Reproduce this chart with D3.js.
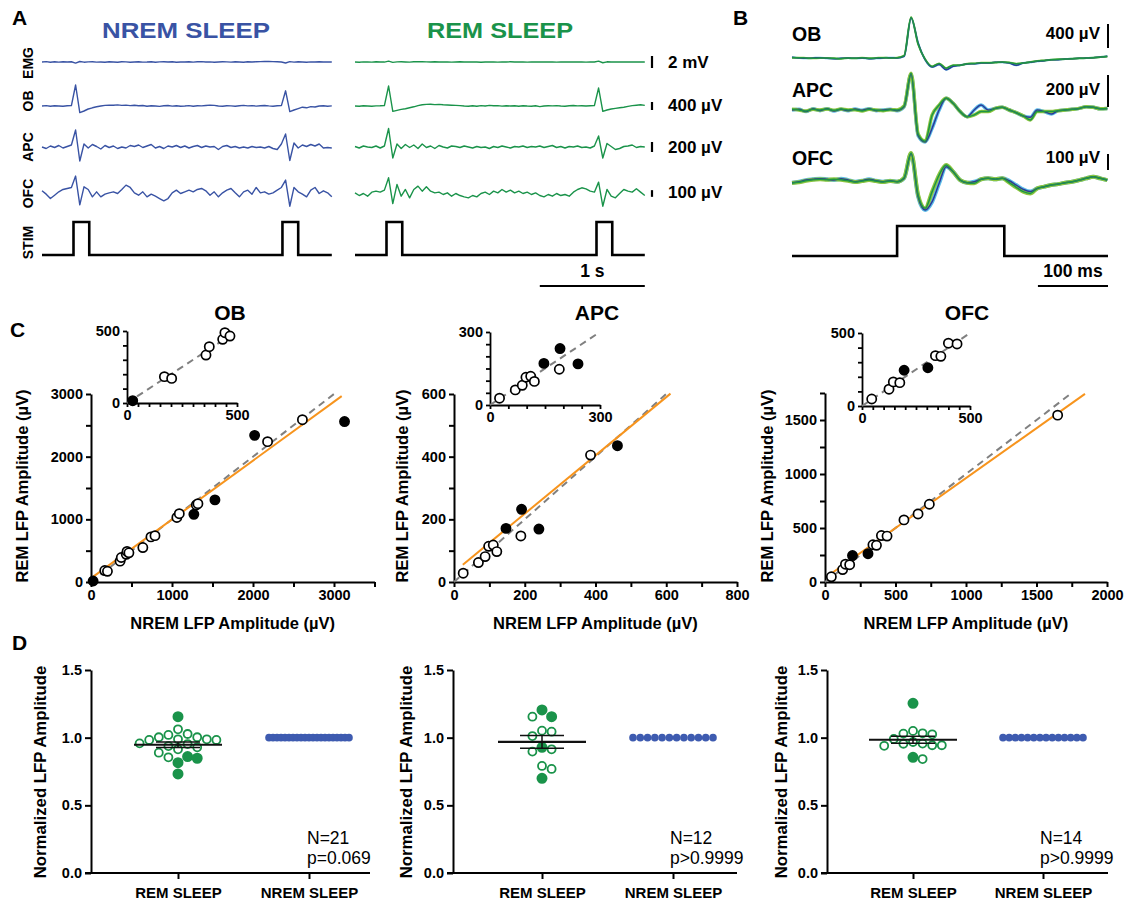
<!DOCTYPE html>
<html>
<head>
<meta charset="utf-8">
<script src="https://cdn.jsdelivr.net/npm/d3@7"></script>
<style>
  body { margin: 0; background: #fff; }
  svg text { font-family: "Liberation Sans", Arial, Helvetica, sans-serif; }
</style>
</head>
<body>
<svg id="fig" width="1134" height="904"></svg>
<script>
// ---------------- data: panel A (raw traces, 40 ms per sample, µV) ----------------
var dtA = 0.04;
var nremEMG = [0, 60, -40, 30, -20, 50, 0, 40, -180, 80,
  -30, 20, 40, -20, 10, -50, 30, 0, -30, 40,
  20, -40, 10, 30, -20, 0, 40, -30, 20, 50,
  -10, 30, -40, 10, 0, 40, -20, 30, 60, -10,
  20, -30, 0, 40, 20, -20, 50, 10, -30, 30,
  0, 40, 60, 80, 100, 70, 30, 0, -170, 60,
  -20, 30, 10, -30, 20, 0, 40, -10, 20, 0];
var nremOB = [0, 20, -10, 15, 0, -15, 10, 20, 1050, -330,
  -250, -150, -90, -40, 0, 30, 45, 40, 55, 30,
  45, 20, 35, 10, 25, -10, 15, 0, -20, 10,
  25, -5, 15, -15, 0, 20, -10, 10, 5, 25,
  45, 30, 0, -10, 15, 5, -15, 10, 30, 5,
  20, -5, 15, 25, 5, -10, 10, 20, 760, -280,
  -200, -130, -60, -90, -30, -50, 0, 10, -10, 5];
var nremAPC = [0, -30, 20, -10, 30, -20, 10, 40, 340, -280,
  60, -20, 50, 10, -40, 30, -10, 20, -30, 0,
  -20, 30, 10, 40, -10, 20, 50, -20, 10, -30,
  20, 0, 30, -10, 20, -20, 10, 30, -10, 20,
  0, 10, -50, 10, 30, -10, 10, -20, 0, -20,
  10, -10, 0, -20, 10, -30, -50, 60, 260, -270,
  80, -20, 40, 10, 50, 20, 60, -20, -10, -20];
var nremOFC = [40, -10, -75, -25, 25, 60, 75, 90, 260, -170,
  100, 60, -50, 25, -50, -10, 10, 25, 0, 60,
  125, 90, 10, -25, 25, -50, -10, -40, -75, -110,
  -75, 10, 50, 0, 25, 50, 25, 60, 75, 40,
  -25, 25, -50, 10, 50, 75, 10, -50, 25, 50,
  -10, 90, 10, 25, -10, 10, 50, 90, 200, -190,
  90, 25, -10, -50, 50, 90, 0, 40, 10, -50];
var remEMG = [0, -30, 20, 10, -20, 30, 0, -10, 150, -60,
  20, 40, 10, -20, 30, 60, 40, 20, 0, 30,
  -10, 20, 0, -20, 10, 30, 0, -10, 20, 0,
  -30, 10, 20, 0, -20, 10, 0, 30, -10, 0,
  20, -20, 10, 0, -10, 20, 0, 10, -20, 10,
  0, 20, -10, 0, 10, -20, 0, 10, 140, -120,
  30, 0, -10, 20, 0, 10, -10, 20, 0, 10];
var remOB = [0, -15, 10, 0, -10, 5, 10, 20, 1000, -270,
  -220, -170, -140, -90, -40, 20, 60, 80, 90, 70,
  80, 60, 50, 40, 30, 20, 0, -10, 10, -15,
  20, 0, 30, 10, 20, -5, 15, 0, 10, -10,
  15, 0, -10, 10, -30, 0, 15, 5, 20, 0,
  -10, 10, 25, 5, 15, 0, 10, 20, 900, -270,
  -200, -150, -120, -90, -60, -20, 20, 40, 60, 30];
var remAPC = [10, -20, 20, 0, -10, 20, -20, 20, 370, -220,
  60, -30, 50, -10, 40, -30, 60, -10, 20, -30,
  30, 0, -20, 20, 10, -10, 20, 0, -20, 10,
  -10, 0, -30, 10, -10, 20, 0, -20, 10, 0,
  20, -10, 10, 0, 20, -10, 10, 30, -10, 10,
  -20, 10, 0, 20, -10, 0, -20, 20, 220, -220,
  70, 10, -50, -30, 10, 20, 40, -10, 10, 0];
var remOFC = [10, -30, 0, -40, 20, 35, 20, 50, 235, -150,
  135, -40, 60, -65, 60, 110, 35, 100, 35, 10,
  20, -15, 10, -40, 0, -30, -50, -65, -30, -50,
  0, 20, -15, 35, 10, 60, 20, 50, 10, 35,
  0, 20, -15, 10, -30, -50, -15, -40, 0, -30,
  -15, -40, 20, 60, 85, 70, 35, 20, 170, -190,
  60, -40, -65, 0, 60, 35, 20, 70, 20, -30];
var stimNrem = [0.30, 2.29], stimRem = [0.30, 2.30], stimDurA = 0.15;
var rowNames = ['EMG', 'OB', 'APC', 'OFC', 'STIM'];
var scaleLabelsA = ['2 mV', '400 µV', '200 µV', '100 µV'];
var scaleValuesA = [2000, 400, 200, 100];

// ---------------- data: panel B (averaged responses, 10 ms per sample from -150 ms, µV) ----------------
var tB = d3.range(-150, 301, 10);
var bOBnrem = [11, 0, -6, 0, 6, -6, -11, -6, 0, -6, 0, -11, -6, 0, 6, 0,
  28, 667, 250, -28, -150, -110, -195, -140, -120, -100, -95, -85, -85, -70, -70,
  -85, -120, -85, -70, -55, -45, -28, -28, -17, -11, -6, 0, 6, 17, 28];
var bOBrem = [6, 6, 0, -6, 0, 0, -6, -11, 0, -6, 6, -6, 0, 6, 0, 6,
  40, 680, 230, -20, -140, -90, -170, -120, -120, -95, -90, -80, -80, -75, -65,
  -75, -95, -85, -65, -50, -40, -30, -22, -17, -11, -6, 0, 6, 15, 25];
var bAPCnrem = [0, 4, -10, 8, -4, 8, -6, 4, -4, 6, -2, 8, -4, 0, 4, -4,
  20, 225, -160, -200, -114, 0, 73, 42, -10, -42, 0, 31, 0, 10, 17,
  0, -17, -37, -46, 0, -10, -25, -4, 0, 4, 10, 21, 17, 8, 10];
var bAPCrem = [4, 0, -6, 4, 0, 6, -2, 6, 0, 2, -6, 4, 0, -4, 2, 0,
  25, 230, -150, -195, -31, 31, 73, 42, -10, -42, -31, -10, -10, 10, 17,
  0, -17, -37, -62, -10, -10, -10, -4, 0, 4, 10, 21, 17, 8, 10];
var bOFCnrem = [-6, 0, 10, 15, 19, 15, 10, 19, 10, 0, 6, 15, 6, 0, 6, 0,
  21, 177, -94, -177, -125, -10, 94, 62, 10, -6, 0, 15, 21, 15, 21,
  6, -21, -48, -62, -42, -31, -21, -15, -6, 0, 10, 21, 31, 21, 10];
var bOFCrem = [-8, -4, 6, 12, 15, 12, 15, 12, 6, -2, 4, 10, 4, -2, 4, 0,
  25, 180, -83, -166, -62, 42, 104, 62, 10, -6, -10, 15, 21, 15, 21,
  -6, -35, -62, -73, -42, -31, -21, -15, -6, 0, 10, 21, 31, 21, 10];
var stimOnB = 0, stimDurB = 153;
var regionNames = ['OB', 'APC', 'OFC'];
var scaleLabelsB = ['400 µV', '200 µV', '100 µV'];
var scaleValuesB = [400, 200, 100];

// ---------------- data: panel C (NREM vs REM amplitude, µV; 1 = filled marker) ----------------
var obNrem = [26, 1270, 1530, 2020, 3130, 170, 203, 359, 374, 435, 445, 468, 640, 740, 790, 1060, 1090, 1300, 1320, 2180, 2610];
var obRem = [16, 1080, 1310, 2340, 2560, 183, 171, 333, 391, 442, 488, 465, 550, 720, 740, 1030, 1090, 1230, 1250, 2240, 2590];
var obFilled = [1, 1, 1, 1, 1, 0, 0, 0, 0, 0, 0, 0, 0, 0, 0, 0, 0, 0, 0, 0, 0];
var apcNrem = [147, 191, 240, 462, 26, 69, 88, 98, 111, 121, 189, 386];
var apcRem = [171, 232, 169, 435, 28, 62, 81, 114, 118, 97, 147, 405];
var apcFilled = [1, 1, 1, 1, 0, 0, 0, 0, 0, 0, 0, 0];
var ofcNrem = [195, 305, 45, 125, 145, 175, 340, 365, 400, 440, 560, 660, 740, 1650];
var ofcRem = [245, 262, 48, 115, 165, 160, 345, 340, 430, 425, 575, 630, 720, 1545];
var ofcFilled = [1, 1, 0, 0, 0, 0, 0, 0, 0, 0, 0, 0, 0, 0];
// linear fits: slope, intercept, first x, last x
var obFit = [0.939, 59, 28, 3095];
var apcFit = [0.93, 32, 25, 612];
var ofcFit = [0.924, 38, 12, 1844];

// ---------------- data: panel D (REM amplitude normalised to NREM) ----------------
var dCategories = ['REM SLEEP', 'NREM SLEEP'];
var dObRem = [1.155, 0.86, 0.848, 0.815, 0.732, 1.062, 1.027, 1.02, 1.003, 1.003, 0.988, 0.983, 0.983, 0.988, 0.958, 0.953, 0.938, 0.929, 0.914, 0.889, 0.855];
var dObFilled = [1, 1, 1, 1, 1, 0, 0, 0, 0, 0, 0, 0, 0, 0, 0, 0, 0, 0, 0, 0, 0];
var dApcRem = [1.205, 1.155, 0.929, 0.700, 1.155, 1.044, 1.052, 1.012, 0.914, 0.897, 0.791, 0.769];
var dApcFilled = [1, 1, 1, 1, 0, 0, 0, 0, 0, 0, 0, 0];
var dOfcRem = [1.254, 0.855, 0.968, 1.032, 0.944, 1.05, 0.956, 1.025, 0.94, 1.03, 0.955, 0.944, 0.99, 0.842];
var dOfcFilled = [1, 1, 0, 0, 0, 0, 0, 0, 0, 0, 0, 0, 0, 0];
var dStats = [['N=21', 'p=0.069'], ['N=12', 'p>0.9999'], ['N=14', 'p>0.9999']];

// ---------------- drawing ----------------
var svg = d3.select('#fig');
var NREM_C = '#3953a4', REM_C = '#1a934a';

svg.append('rect').attr('width', 1134).attr('height', 904).attr('fill', '#fff');

function label(x, y, s, size, opt) {
    opt = opt || {};
    var t = svg.append('text')
        .attr('x', x).attr('y', y)
        .attr('font-size', size)
        .attr('font-weight', opt.normal ? 'normal' : 'bold')
        .attr('fill', opt.color || '#000')
        .attr('text-anchor', opt.anchor || 'start')
        .text(s);
    if (opt.rotate) t.attr('transform', 'rotate(-90,' + x + ',' + y + ')');
    if (opt.len) t.attr('textLength', opt.len).attr('lengthAdjust', 'spacingAndGlyphs');
    return t;
}

function styleAxis(g, w, size) {
    g.select('.domain').attr('stroke', '#000').attr('stroke-width', w);
    g.selectAll('.tick line').attr('stroke', '#000').attr('stroke-width', w);
    g.selectAll('.tick text').attr('fill', '#000').attr('font-size', size)
        .attr('font-weight', 'bold').attr('font-family', null);
}

// panel letters
label(12, 25, 'A', 21);
label(733, 25, 'B', 21);
label(10, 337, 'C', 21);
label(12, 650, 'D', 21);

// ---- panel A ----
label(186, 38, 'NREM SLEEP', 22, { anchor: 'middle', color: NREM_C, len: 168 });
label(500, 38, 'REM SLEEP', 22, { anchor: 'middle', color: REM_C, len: 146 });

var rowBase = [62, 106, 147, 193.5];
var rowGain = [12 / 2000, 8 / 400, 10 / 200, 6.7 / 100]; // px per µV
var rowLabelY = [63, 101, 147, 193.5, 242.5];
rowNames.forEach(function (n, i) {
    label(32.5, rowLabelY[i], n, 14, { anchor: 'middle', rotate: true });
});

var tEndA = dtA * (nremOB.length - 1);
var xNrem = d3.scaleLinear().domain([0, tEndA]).range([42, 42 + 105 * tEndA]);
var xRem = d3.scaleLinear().domain([0, tEndA]).range([355, 355 + 105 * tEndA]);

function drawTrace(vals, x, y, color, w) {
    svg.append('path')
        .datum(vals)
        .attr('fill', 'none')
        .attr('stroke', color)
        .attr('stroke-width', w)
        .attr('stroke-linejoin', 'round')
        .attr('d', d3.line().x(function (d, i) { return x(i * dtA); }).y(function (d) { return y(d); }));
}

[[nremEMG, remEMG], [nremOB, remOB], [nremAPC, remAPC], [nremOFC, remOFC]].forEach(function (pair, r) {
    var y = d3.scaleLinear().domain([0, 1]).range([rowBase[r], rowBase[r] - rowGain[r]]);
    drawTrace(pair[0], xNrem, y, NREM_C, 1.4);
    drawTrace(pair[1], xRem, y, REM_C, 1.4);
    // scale bar
    var half = scaleValuesA[r] * rowGain[r] / 2;
    svg.append('line').attr('x1', 652).attr('x2', 652)
        .attr('y1', rowBase[r] - half).attr('y2', rowBase[r] + half)
        .attr('stroke', '#000').attr('stroke-width', 2.2);
    label(668, [68, 111, 153, 198][r], scaleLabelsA[r], 17);
});

function stimPoints(onsets, dur, t0, t1) {
    var pts = [[t0, 0]];
    onsets.forEach(function (t) { pts.push([t, 0], [t, 1], [t + dur, 1], [t + dur, 0]); });
    pts.push([t1, 0]);
    return pts;
}
var yStimA = d3.scaleLinear().domain([0, 1]).range([255, 222]);
[[stimNrem, xNrem], [stimRem, xRem]].forEach(function (s) {
    svg.append('path')
        .datum(stimPoints(s[0], stimDurA, 0, tEndA))
        .attr('fill', 'none').attr('stroke', '#000').attr('stroke-width', 2.6)
        .attr('d', d3.line().x(function (d) { return s[1](d[0]); }).y(function (d) { return yStimA(d[1]); }));
});
// 1 s bar
svg.append('line').attr('x1', xRem(tEndA - 1)).attr('x2', xRem(tEndA))
    .attr('y1', 286).attr('y2', 286).attr('stroke', '#000').attr('stroke-width', 2);
label((xRem(tEndA - 1) + xRem(tEndA)) / 2, 277, '1 s', 17.5, { anchor: 'middle' });

// ---- panel B ----
var xB = d3.scaleLinear().domain([-150, 301]).range([792, 1108]);
var bBase = [58, 110, 181.7];
var bGain = [24 / 400, 32 / 200, 16 / 100];
var bBarBottom = [48, 107, 170];
var bLabelY = [41, 97, 165];
var bSets = [[bOBnrem, bOBrem], [bAPCnrem, bAPCrem], [bOFCnrem, bOFCrem]];
var halo = [2, 3.5, 4];

bSets.forEach(function (pair, r) {
    var y = d3.scaleLinear().domain([0, 1]).range([bBase[r], bBase[r] - bGain[r]]);
    var line = d3.line().curve(d3.curveMonotoneX)
        .x(function (d, i) { return xB(tB[i]); })
        .y(function (d) { return y(d); });
    svg.append('path').datum(pair[0]).attr('fill', 'none').attr('stroke', '#5bbbe8')
        .attr('stroke-width', halo[r]).attr('stroke-linejoin', 'round').attr('d', line);
    svg.append('path').datum(pair[1]).attr('fill', 'none').attr('stroke', '#8cc63f')
        .attr('stroke-width', halo[r]).attr('stroke-linejoin', 'round').attr('d', line);
    svg.append('path').datum(pair[0]).attr('fill', 'none').attr('stroke', '#2b3a98')
        .attr('stroke-width', 1.5).attr('d', line);
    svg.append('path').datum(pair[1]).attr('fill', 'none').attr('stroke', '#1d9545')
        .attr('stroke-width', 1.5).attr('d', line);

    label(792, bLabelY[r], regionNames[r], 19.5);
    label(1100, bLabelY[r] - 2, scaleLabelsB[r], 17, { anchor: 'end' });
    svg.append('line').attr('x1', 1108).attr('x2', 1108)
        .attr('y1', bBarBottom[r]).attr('y2', bBarBottom[r] - scaleValuesB[r] * bGain[r])
        .attr('stroke', '#000').attr('stroke-width', 2);
});

var yStimB = d3.scaleLinear().domain([0, 1]).range([256, 226]);
svg.append('path')
    .datum(stimPoints([stimOnB], stimDurB, -150, 301))
    .attr('fill', 'none').attr('stroke', '#000').attr('stroke-width', 2.6)
    .attr('d', d3.line().x(function (d) { return xB(d[0]); }).y(function (d) { return yStimB(d[1]); }));
svg.append('line').attr('x1', xB(201)).attr('x2', xB(301))
    .attr('y1', 286).attr('y2', 286).attr('stroke', '#000').attr('stroke-width', 2);
label((xB(201) + xB(301)) / 2, 277, '100 ms', 17.5, { anchor: 'middle' });

// ---- panel C ----
function scatterAxes(p, w, tick, font) {
    var x = d3.scaleLinear().domain([0, p.xMax]).range([p.left, p.right]);
    var y = d3.scaleLinear().domain([0, p.yMax]).range([p.bottom, p.top]);
    svg.append('g').attr('transform', 'translate(0,' + p.bottom + ')')
        .call(d3.axisBottom(x).tickValues(d3.range(0, p.xMax + 1, p.xMinor))
            .tickFormat(function (v) { return v % p.xMajor ? '' : v; })
            .tickSize(tick).tickSizeOuter(0).tickPadding(3))
        .call(styleAxis, w, font);
    svg.append('g').attr('transform', 'translate(' + p.left + ',0)')
        .call(d3.axisLeft(y).tickValues(d3.range(0, p.yMax + 1, p.yMinor))
            .tickFormat(function (v) { return v % p.yMajor ? '' : v; })
            .tickSize(tick).tickSizeOuter(0).tickPadding(3))
        .call(styleAxis, w, font);
    return { x: x, y: y };
}

function drawPoints(s, nrem, rem, filled, max, r) {
    var idx = d3.range(nrem.length).filter(function (i) { return nrem[i] <= max && rem[i] <= max; });
    svg.append('g').selectAll('circle').data(idx).join('circle')
        .attr('cx', function (i) { return s.x(nrem[i]); })
        .attr('cy', function (i) { return s.y(rem[i]); })
        .attr('r', r)
        .attr('fill', function (i) { return filled[i] ? '#000' : '#fff'; })
        .attr('stroke', '#000').attr('stroke-width', 1.7);
}

function identity(s, max) {
    svg.append('line')
        .attr('x1', s.x(0)).attr('y1', s.y(0)).attr('x2', s.x(max)).attr('y2', s.y(max))
        .attr('stroke', '#808080').attr('stroke-width', 2).attr('stroke-dasharray', '7,5');
}

var cPanels = [
    { name: 'OB', nrem: obNrem, rem: obRem, filled: obFilled, fit: obFit, idMax: 3000, cx: 230, ylab: 28,
      main: { left: 91, right: 374.5, top: 394, bottom: 582, xMax: 3500, yMax: 3000, xMinor: 500, xMajor: 1000, yMinor: 500, yMajor: 1000 },
      inset: { left: 127, right: 237, top: 331, bottom: 403, xMax: 500, yMax: 500, xMinor: 50, xMajor: 500, yMinor: 100, yMajor: 500 } },
    { name: 'APC', nrem: apcNrem, rem: apcRem, filled: apcFilled, fit: apcFit, idMax: 600, cx: 597, ylab: 408,
      main: { left: 454, right: 737, top: 394, bottom: 582, xMax: 800, yMax: 600, xMinor: 100, xMajor: 200, yMinor: 100, yMajor: 200 },
      inset: { left: 490, right: 600, top: 332, bottom: 405, xMax: 300, yMax: 300, xMinor: 50, xMajor: 300, yMinor: 50, yMajor: 300 } },
    { name: 'OFC', nrem: ofcNrem, rem: ofcRem, filled: ofcFilled, fit: ofcFit, idMax: 1750, cx: 967, ylab: 773,
      main: { left: 825, right: 1107, top: 393, bottom: 582, xMax: 2000, yMax: 1750, xMinor: 250, xMajor: 500, yMinor: 250, yMajor: 500 },
      inset: { left: 862, right: 970, top: 333, bottom: 406, xMax: 500, yMax: 500, xMinor: 50, xMajor: 500, yMinor: 100, yMajor: 500 } }
];

cPanels.forEach(function (c) {
    var m = scatterAxes(c.main, 2, 5, 14.5);
    identity(m, c.idMax);
    var f = c.fit;
    svg.append('line')
        .attr('x1', m.x(f[2])).attr('y1', m.y(f[0] * f[2] + f[1]))
        .attr('x2', m.x(f[3])).attr('y2', m.y(f[0] * f[3] + f[1]))
        .attr('stroke', '#f7941d').attr('stroke-width', 2);
    drawPoints(m, c.nrem, c.rem, c.filled, Infinity, 4.6);

    var s = scatterAxes(c.inset, 1.8, 4, 14.5);
    identity(s, c.inset.xMax);
    drawPoints(s, c.nrem, c.rem, c.filled, c.inset.xMax, 4.6);

    label(c.cx, 320, c.name, 21, { anchor: 'middle' });
    label((c.main.left + c.main.right) / 2, 629, 'NREM LFP Amplitude (µV)', 16.5, { anchor: 'middle' });
    label(c.ylab, 486, 'REM LFP Amplitude (µV)', 16.5, { anchor: 'middle', rotate: true });
});

// ---- panel D ----
function swarm(vals, y, r, gap) {
    var minD = 2 * r + gap, step = minD / 2;
    var order = d3.range(vals.length).sort(function (a, b) { return d3.descending(vals[a], vals[b]); });
    var placed = [], off = new Array(vals.length);
    order.forEach(function (i) {
        var py = y(vals[i]);
        for (var k = 0; ; k++) {
            var dx = (k % 2 ? 1 : -1) * Math.ceil(k / 2) * step;
            var clash = placed.some(function (p) {
                return (p[0] - dx) * (p[0] - dx) + (p[1] - py) * (p[1] - py) < minD * minD - 0.01;
            });
            if (!clash) { placed.push([dx, py]); off[i] = dx; break; }
        }
    });
    return off;
}

var dPanels = [
    { vals: dObRem, filled: dObFilled, left: 91, right: 370, cats: [178, 309], ylab: 46, stat: 307 },
    { vals: dApcRem, filled: dApcFilled, left: 453, right: 737, cats: [542, 673], ylab: 412, stat: 670 },
    { vals: dOfcRem, filled: dOfcFilled, left: 827, right: 1108, cats: [913, 1043], ylab: 787, stat: 1040 }
];

dPanels.forEach(function (p, k) {
    var y = d3.scaleLinear().domain([0, 1.5]).range([873, 670]);
    var x = d3.scaleOrdinal().domain(dCategories).range(p.cats);

    svg.append('g').attr('transform', 'translate(' + p.left + ',0)')
        .call(d3.axisLeft(y).tickValues([0, 0.5, 1, 1.5]).tickFormat(d3.format('.1f'))
            .tickSize(6).tickSizeOuter(0).tickPadding(3))
        .call(styleAxis, 2, 14.5);
    svg.append('line').attr('x1', p.left - 6).attr('x2', p.right)
        .attr('y1', 873).attr('y2', 873).attr('stroke', '#000').attr('stroke-width', 2);
    var gx = svg.append('g').attr('transform', 'translate(0,873)')
        .call(d3.axisBottom(x).tickSize(6).tickSizeOuter(0).tickPadding(8))
        .call(styleAxis, 2, 15);
    gx.select('.domain').remove();

    // REM points
    var r = 4;
    var off = swarm(p.vals, y, r, 1.6);
    var cx = x('REM SLEEP');
    svg.append('g').selectAll('circle').data(p.vals).join('circle')
        .attr('cx', function (d, i) { return cx + off[i]; })
        .attr('cy', function (d) { return y(d); })
        .attr('r', function (d, i) { return p.filled[i] ? r + 0.6 : r; })
        .attr('fill', function (d, i) { return p.filled[i] ? REM_C : '#fff'; })
        .attr('stroke', REM_C).attr('stroke-width', 1.8);

    // NREM points (all 1 after normalisation)
    var n = p.vals.length, spread = 80, nx = x('NREM SLEEP');
    svg.append('g').selectAll('circle').data(d3.range(n)).join('circle')
        .attr('cx', function (i) { return nx - spread / 2 + spread * i / (n - 1); })
        .attr('cy', y(1))
        .attr('r', 3.8)
        .attr('fill', '#3e5bb0');

    // mean ± SEM
    var mean = d3.mean(p.vals), sem = d3.deviation(p.vals) / Math.sqrt(n);
    var g = svg.append('g').attr('stroke', '#111');
    g.append('line').attr('x1', cx - 44).attr('x2', cx + 44)
        .attr('y1', y(mean)).attr('y2', y(mean)).attr('stroke-width', 2.2);
    g.append('line').attr('x1', cx).attr('x2', cx)
        .attr('y1', y(mean - sem)).attr('y2', y(mean + sem)).attr('stroke-width', 1.5);
    [mean - sem, mean + sem].forEach(function (v) {
        g.append('line').attr('x1', cx - 22).attr('x2', cx + 22)
            .attr('y1', y(v)).attr('y2', y(v)).attr('stroke-width', 1.5);
    });

    label(p.ylab, 772, 'Normalized LFP Amplitude', 16.8, { anchor: 'middle', rotate: true });
    label(p.stat, 844, dStats[k][0], 17.5, { normal: true });
    label(p.stat, 864, dStats[k][1], 17.5, { normal: true });
});
</script>
</body>
</html>
